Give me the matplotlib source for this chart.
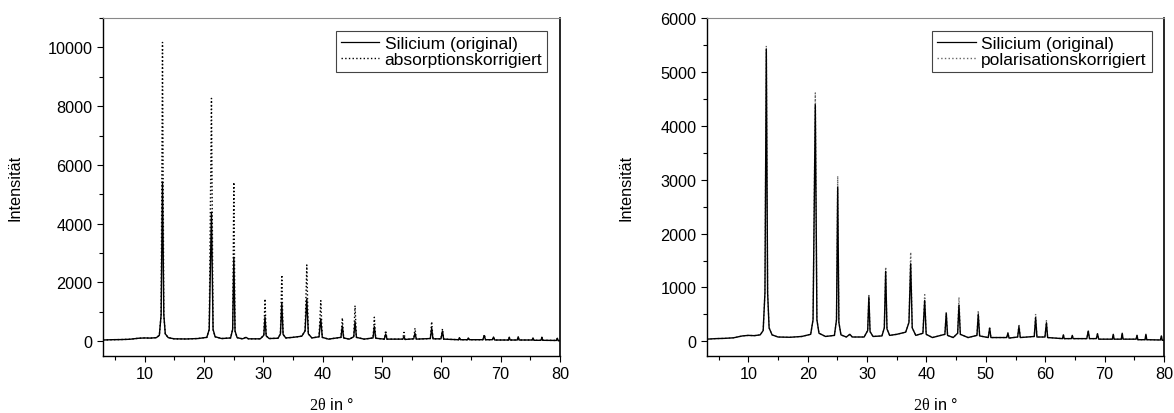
import numpy as np
import matplotlib
matplotlib.use('Agg')
import matplotlib.pyplot as plt
from matplotlib.ticker import MultipleLocator
from matplotlib.lines import Line2D

plt.rcParams['font.family'] = ['Liberation Sans', 'DejaVu Sans']
plt.rcParams['mathtext.fontset'] = 'custom'
plt.rcParams['mathtext.rm'] = 'Liberation Serif'

# Diffractogram: background points, peak shoulders and peak tops
two_theta = [3.0, 4.5, 6.0, 7.5, 9.0, 10.0, 11.0, 12.0, 12.5, 12.8, 13.03, 13.25, 13.5, 14.0,
             15.0, 17.0, 19.0, 20.5, 20.9, 21.28, 21.55, 21.9, 23.0, 24.5, 24.85, 25.05, 25.25,
             25.6, 26.5, 27.1, 27.5, 29.5, 30.1, 30.3, 30.5, 31.0, 32.5, 32.9, 33.13, 33.35,
             33.8, 35.0, 36.5, 37.05, 37.34, 37.6, 38.2, 39.4, 39.7, 39.95, 41.0, 43.1, 43.33,
             43.55, 44.5, 45.25, 45.47, 45.7, 47.0, 48.5, 48.72, 48.95, 50.4, 50.64, 50.85,
             53.5, 53.72, 53.9, 55.35, 55.57, 55.8, 58.15, 58.38, 58.6, 59.95, 60.2, 60.4,
             62.9, 63.05, 63.2, 64.4, 64.55, 64.7, 67.0, 67.24, 67.45, 68.6, 68.8, 69.0,
             71.3, 71.45, 71.6, 72.8, 72.96, 73.1, 75.3, 75.45, 75.6, 76.8, 76.95, 77.1,
             79.4, 79.55, 79.7, 80.0]
silicium = [40, 50, 55, 65, 100, 110, 105, 120, 200, 900, 5420, 900, 250, 120,
            80, 75, 90, 130, 400, 4390, 400, 150, 90, 110, 400, 2860, 350,
            120, 80, 130, 80, 80, 200, 825, 180, 90, 100, 250, 1300, 230,
            110, 130, 170, 350, 1440, 250, 110, 150, 758, 130, 70, 130, 520,
            110, 70, 150, 670, 130, 70, 110, 500, 100, 70, 245, 70,
            70, 150, 60, 80, 270, 70, 90, 440, 80, 80, 345, 70,
            50, 120, 50, 50, 110, 50, 50, 190, 50, 50, 140, 40,
            40, 130, 40, 40, 150, 40, 40, 110, 30, 30, 130, 30,
            25, 100, 20, 20]

# peak positions and corrected peak heights
peak_pos = [13.03, 21.28, 25.05, 30.3, 33.13, 37.34, 39.7, 43.33, 45.47, 48.72,
            50.64, 53.72, 55.57, 58.38, 60.2, 67.24]
absorption_peaks = [10170, 8265, 5408, 1439, 2255, 2595, 1381, 793, 1211, 816,
                    361, 300, 442, 667, 418, 230]
polarisation_peaks = [5483, 4610, 3067, 850, 1380, 1654, 866, 545, 818, 569,
                      271, 160, 322, 508, 383, 206]

x = np.array(two_theta)
y_orig = np.array(silicium, dtype=float)
idx = [int(np.argmin(np.abs(x - p))) for p in peak_pos]
y_abs = y_orig.copy()
y_abs[idx] = absorption_peaks
y_pol = y_orig.copy()
y_pol[idx] = polarisation_peaks

fig = plt.figure(figsize=(11.74, 4.14), dpi=100)
ax1 = fig.add_axes([0.0877, 0.138, 0.3893, 0.816])
ax2 = fig.add_axes([0.602, 0.138, 0.3895, 0.816])

panels = [
    (ax1, y_abs, 'absorptionskorrigiert', 'black', (-500, 11000), 2000, 1000, -0.177),
    (ax2, y_pol, 'polarisationskorrigiert', '#666666', (-270, 6000), 1000, 500, -0.161),
]

for ax, y_corr, corr_label, corr_color, ylim, ymaj, ymin, ylab_x in panels:
    ax.plot(x, y_corr, linestyle=':', color=corr_color, linewidth=1.0)
    ax.plot(x, y_orig, color='black', linewidth=1.0)
    ax.set_xlim(3, 80)
    ax.set_ylim(*ylim)
    ax.xaxis.set_major_locator(MultipleLocator(10))
    ax.xaxis.set_minor_locator(MultipleLocator(5))
    ax.yaxis.set_major_locator(MultipleLocator(ymaj))
    ax.yaxis.set_minor_locator(MultipleLocator(ymin))
    ax.tick_params(which='both', direction='out', labelsize=11.7, width=0.8)
    ax.tick_params(which='major', length=4)
    ax.tick_params(which='minor', length=3)
    ax.spines['top'].set_color('#888888')
    ax.spines['top'].set_linewidth(0.8)
    ax.spines['right'].set_linewidth(1.2)
    ax.spines['left'].set_linewidth(1.0)
    ax.spines['bottom'].set_linewidth(1.0)
    ax.set_ylabel('Intensität', fontsize=11.7)
    ax.yaxis.set_label_coords(ylab_x, 0.5)
    ax.set_xlabel(r'$\mathrm{2θ}$ in °', fontsize=11.7)
    ax.xaxis.set_label_coords(0.5, -0.118)
    handles = [Line2D([], [], color='black', linewidth=0.9),
               Line2D([], [], color=corr_color, linestyle=':', linewidth=1.0)]
    leg = ax.legend(handles, ['Silicium (original)', corr_label], loc='upper right',
                    fontsize=12.5, fancybox=False, framealpha=1, edgecolor='#444444',
                    borderpad=0.3, labelspacing=0.05, handlelength=2.2,
                    handletextpad=0.3, borderaxespad=0.72)
    leg.get_frame().set_linewidth(0.8)

fig.savefig('out.png', dpi=100)
